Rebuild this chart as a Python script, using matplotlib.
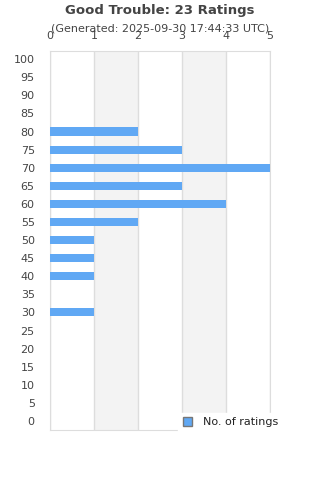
import matplotlib
matplotlib.use("Agg")
import matplotlib.pyplot as plt
from matplotlib.patches import Patch

# Rating buckets and counts
categories = [0, 5, 10, 15, 20, 25, 30, 35, 40, 45, 50, 55, 60, 65, 70, 75, 80, 85, 90, 95, 100]
counts = [0, 0, 0, 0, 0, 0, 1, 0, 1, 1, 1, 2, 4, 3, 5, 3, 2, 0, 0, 0, 0]
x_ticks = [0, 1, 2, 3, 4, 5]

bar_color = "#60a8f4"
text_color = "#444444"

fig = plt.figure(figsize=(3.2, 4.8), dpi=100)
ax = fig.add_axes([50 / 320, 1 - 430 / 480, 220 / 320, 379 / 480])

pos = list(range(len(categories)))
ax.barh(pos, counts, height=0.45, color=bar_color, zorder=3)

# alternating shaded bands
for i in range(len(x_ticks) - 1):
    if i % 2 == 1:
        ax.axvspan(x_ticks[i], x_ticks[i + 1], color="#f3f3f3", zorder=0, lw=0)
for t in x_ticks:
    ax.axvline(t, color="#dddddd", lw=1, zorder=1)

ax.set_xlim(0, 5)
ax.set_ylim(-0.5, 20.45)
ax.set_yticks(pos)
ax.set_yticklabels([str(c) for c in categories])
ax.set_xticks(x_ticks)
ax.xaxis.tick_top()
ax.tick_params(axis="both", length=0, labelsize=8, colors=text_color)
ax.tick_params(axis="y", pad=11)
ax.tick_params(axis="x", pad=7)
for s in ax.spines.values():
    s.set_color("#dddddd")

fig.text(0.5, 0.978, "Good Trouble: 23 Ratings", ha="center", va="center",
         fontsize=9.5, fontweight="bold", color=text_color)
fig.text(0.5, 0.941, "(Generated: 2025-09-30 17:44:33 UTC)", ha="center", va="center",
         fontsize=8, color=text_color)

handle = Patch(facecolor=bar_color, edgecolor="#777777", lw=1)
leg = fig.legend([handle], ["No. of ratings"], loc="center", bbox_to_anchor=(0.72, 0.12),
                 frameon=True, fontsize=8, handlelength=0.8, handleheight=0.8,
                 borderpad=0.4, handletextpad=1.0, fancybox=False)
leg.get_frame().set_edgecolor("white")
leg.get_frame().set_facecolor("white")
leg.get_frame().set_alpha(1)
for t in leg.get_texts():
    t.set_color("#222222")

fig.savefig("out.png", dpi=100)
